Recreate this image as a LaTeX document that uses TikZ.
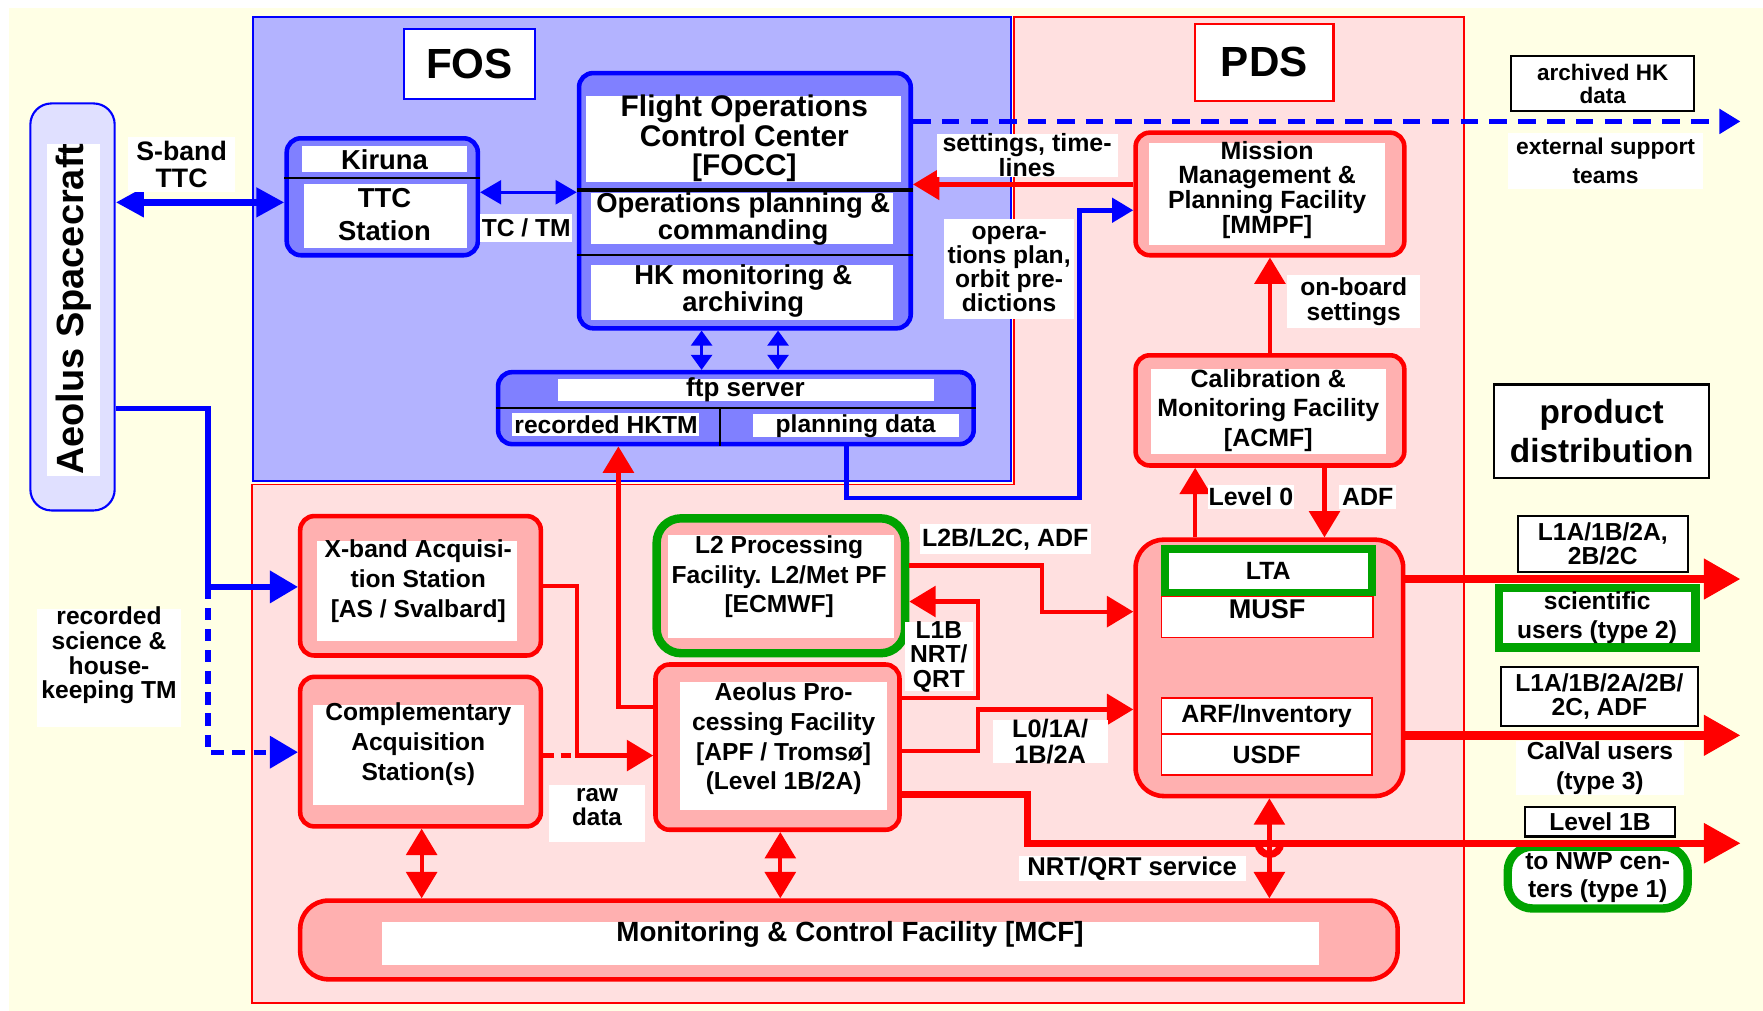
\documentclass[tikz,border=0pt]{standalone}
\usepackage{fontspec}
\setmainfont{Liberation Sans}
\usepackage{tikz}
\usetikzlibrary{arrows.meta,fit}

\definecolor{creambg}{HTML}{FFFFE5}
\definecolor{fospanel}{HTML}{B3B3FF}
\definecolor{fosmid}{HTML}{8080FF}
\definecolor{pdspanel}{HTML}{FFE0E0}
\definecolor{pdsmid}{HTML}{FFB0B0}
\definecolor{linkblue}{HTML}{0000FF}
\definecolor{linkred}{HTML}{FF0000}
\definecolor{ecmwfgreen}{HTML}{00A300}
\definecolor{craftfill}{HTML}{E0E0FF}

\newcommand{\diagfont}[2]{\bfseries\fontsize{#1}{#2}\selectfont}

\tikzset{
    fosunit/.style={draw=linkblue, line width=1.3pt, fill=fosmid, rounded corners=4pt, inner sep=0pt},
    pdsunit/.style={draw=linkred, line width=1.3pt, fill=pdsmid, rounded corners=4pt, inner sep=0pt},
    greenunit/.style={draw=ecmwfgreen, line width=2.4pt, fill=pdsmid, rounded corners=7pt, inner sep=0pt},
    textbox/.style={draw=black, line width=0.6pt, fill=white, inner sep=0pt},
    notebg/.style={fill=white, inner sep=0pt},
    subbox/.style={draw=linkred, line width=0.5pt, fill=white, inner sep=0pt},
    txt/.style={font=\diagfont{7}{8.5}, align=center, inner sep=0pt},
    blueflow/.style={draw=linkblue, line width=1.5pt},
    redflow/.style={draw=linkred, line width=1.2pt},
    bigflow/.style={draw=linkred, line width=2.4pt},
    sbandtip/.tip={Triangle[length=8pt,width=8pt]},
    bluetip/.tip={Triangle[length=6pt,width=6.8pt]},
    bluebigtip/.tip={Triangle[length=8pt,width=9pt]},
    ftptip/.tip={Triangle[length=4.3pt,width=6pt]},
    redtip/.tip={Triangle[length=7.5pt,width=8.7pt]},
    bigtip/.tip={Triangle[length=10.4pt,width=11pt]},
}

\begin{document}
\begin{tikzpicture}[x=0.011244cm, y=-0.011244cm]
    \useasboundingbox (0,0) rectangle (1568,899);
    % Background
    \fill[white] (0,0) rectangle (1568,899);
    \fill[creambg] (8,7) rectangle (1568,899);

    % PDS and FOS panels
    \draw[fill=pdspanel, draw=linkred, line width=0.5pt] (902,15) -- (1302,15) -- (1302,892) -- (224,892) -- (224,431) -- (902,431) -- cycle;
    \draw[fill=fospanel, draw=linkblue, line width=0.5pt] (225,15) rectangle (899,428);
    \node[textbox, draw=linkblue, fit={(359,26) (476,88)}] (fostitle) {};
    \node[txt, font=\diagfont{12}{14}] (fostxt) at (fostitle) {FOS};
    \node[textbox, draw=linkred, fit={(1063,21) (1186,90)}] (pdstitle) {};
    \node[txt, font=\diagfont{12}{14}] (pdstxt) at (pdstitle) {PDS};

    % Aeolus spacecraft
    \node[draw=linkblue, line width=0.6pt, fill=craftfill, rounded corners=6pt, inner sep=0pt, fit={(27,92) (102,454)}] (craft) {};
    \fill[white] (42,128) rectangle (89,423);
    \node[rotate=90, font=\diagfont{10.8}{12}, inner sep=0pt] (crafttxt) at (65.5,275) {Aeolus Spacecraft};

    % Kiruna TTC station
    \node[fosunit, fit={(255,123) (425,227)}] (kiruna) {};
    \fill[white] (269,130) rectangle (415,153);
    \fill[white] (270,164) rectangle (415,221);
    \draw[black, line width=0.6pt] (kiruna.west |- 0,158) -- (kiruna.east |- 0,158);
    \node[txt, font=\diagfont{7.8}{9.3}] (kirunatxt) at (342,142) {Kiruna};
    \node[txt, font=\diagfont{7.8}{9.3}] (ttctxt) at (342,191) {TTC\\Station};

    % FOCC
    \node[fosunit, fit={(515,65) (810,292)}] (focc) {};
    \fill[white] (521,85) rectangle (801,162);
    \fill[white] (526,172) rectangle (794,217);
    \fill[white] (526,236) rectangle (794,285);
    \draw[black, line width=1pt] (focc.west |- 0,169) -- (focc.east |- 0,169);
    \draw[black, line width=0.6pt] (focc.west |- 0,227) -- (focc.east |- 0,227);
    \node[txt, font=\diagfont{8.5}{8.3}] (focctxt) at (662,123) {Flight Operations\\Control Center\\{[FOCC]}};
    \node[txt, font=\diagfont{7.8}{7.7}] (opstxt) at (661,195) {Operations planning \&\\commanding};
    \node[txt, font=\diagfont{7.8}{7.7}] (hktxt) at (661,259) {HK monitoring \&\\archiving};

    % ftp server
    \node[fosunit, fit={(443,331) (866,395)}] (ftp) {};
    \fill[white] (496,337) rectangle (831,357);
    \fill[white] (455,367) rectangle (622,388);
    \fill[white] (670,368) rectangle (853,389);
    \draw[black, line width=0.6pt] (ftp.west |- 0,363) -- (ftp.east |- 0,363);
    \draw[black, line width=0.6pt] (640,363) -- (ftp.south -| 640,0);
    \node[txt, font=\diagfont{7.4}{8}] (ftptxt) at (663,347) {ftp server};
    \node[txt, font=\diagfont{7}{8}] (hktmtxt) at (539,378) {recorded HKTM};
    \node[txt, font=\diagfont{7}{8}] (plantxt) at (761,379) {planning data};

    % MMPF and ACMF
    \node[pdsunit, fit={(1010,118) (1249,227)}] (mmpf) {};
    \fill[white] (1022,127) rectangle (1232,218);
    \node[txt, font=\diagfont{7.1}{7.1}] (mmpftxt) at (1127,169) {Mission\\Management \&\\Planning Facility\\{[MMPF]}};
    \node[pdsunit, fit={(1010,316) (1249,414)}] (acmf) {};
    \fill[white] (1024,328) rectangle (1233,404);
    \node[txt, font=\diagfont{7.1}{8.4}] (acmftxt) at (1128,365) {Calibration \&\\Monitoring Facility\\{[ACMF]}};

    % Acquisition stations
    \node[pdsunit, fit={(267,459) (481,583)}] (xband) {};
    \fill[white] (282,481) rectangle (460,570);
    \node[txt] (xbandtxt) at (372,517) {X-band Acquisi-\\tion Station\\{[AS / Svalbard]}};
    \node[pdsunit, fit={(267,602) (481,735)}] (compl) {};
    \fill[white] (278,627) rectangle (466,716);
    \node[txt] (compltxt) at (372,662) {Complementary\\Acquisition\\Station(s)};

    % Processing facilities
    \node[greenunit, fit={(584,461) (805,581)}] (l2pf) {};
    \fill[white] (594,476) rectangle (795,567);
    \node[txt, font=\diagfont{7}{8.3}] (l2pftxt) at (693,513) {L2 Processing\\Facility. L2/Met PF\\{[ECMWF]}};
    \node[pdsunit, fit={(583,591) (800,738)}] (apf) {};
    \fill[white] (605,607) rectangle (789,720);
    \node[txt] (apftxt) at (697,657) {Aeolus Pro-\\cessing Facility\\{[APF / Tromsø]}\\(Level 1B/2A)};

    % MCF
    \node[pdsunit, rounded corners=8pt, fit={(267,801) (1243,871)}] (mcf) {};
    \fill[white] (340,820) rectangle (1173,858);
    \node[txt, font=\diagfont{7.9}{9}] (mcftxt) at (756,831) {Monitoring \& Control Facility [MCF]};

    % LTA / MUSF / USDF
    \node[pdsunit, rounded corners=8pt, fit={(1010,480) (1248,708)}] (ltabox) {};
    \node[subbox, fit={(1033,530) (1221,567)}] (musf) {};
    \node[txt, font=\diagfont{7.7}{8}] (musftxt) at (1127,542) {MUSF};
    \node[draw=ecmwfgreen, line width=2.2pt, fill=white, inner sep=0pt, fit={(1036,488) (1220,527)}] (lta) {};
    \node[txt, font=\diagfont{7.1}{8}] (ltatxt) at (lta) {LTA};
    \node[subbox, fit={(1033,621) (1220,653)}] (arf) {};
    \node[txt, font=\diagfont{7.1}{8}] (arftxt) at (arf) {ARF/Inventory};
    \node[subbox, fit={(1033,653) (1220,689)}] (usdf) {};
    \node[txt, font=\diagfont{7.1}{8}] (usdftxt) at (usdf) {USDF};

    % Right side boxes
    \node[textbox, fit={(1344,50) (1507,99)}] (archhk) {};
    \node[txt, font=\diagfont{6.4}{6.6}] (archhktxt) at (archhk) {archived HK\\data};
    \node[notebg, fit={(1341,118) (1515,168)}] (extteams) {};
    \node[txt, font=\diagfont{6.5}{8}] (extteamstxt) at (extteams) {external support\\teams};
    \node[textbox, fit={(1329,342) (1520,425)}] (proddist) {};
    \node[txt, font=\diagfont{9.5}{11.2}] (proddisttxt) at (proddist) {product\\distribution};
    \node[textbox, fit={(1350,459) (1501,509)}] (sciprod) {};
    \node[txt, font=\diagfont{7}{6.8}] (sciprodtxt) at (sciprod) {L1A/1B/2A,\\2B/2C};
    \node[draw=ecmwfgreen, line width=2.4pt, fill=white, inner sep=0pt, fit={(1333,523) (1508,576)}] (sciusers) {};
    \node[txt, font=\diagfont{7}{8.3}] (sciuserstxt) at (sciusers) {scientific\\users (type 2)};
    \node[textbox, fit={(1335,593) (1510,646)}] (calprod) {};
    \node[txt, font=\diagfont{7}{7}] (calprodtxt) at (calprod) {L1A/1B/2A/2B/\\2C, ADF};
    \node[notebg, fit={(1348,659) (1498,707)}] (calusers) {};
    \node[txt, font=\diagfont{7}{8.6}] (caluserstxt) at (calusers) {CalVal users\\(type 3)};
    \node[textbox, fit={(1356,718) (1490,744)}] (nwpprod) {};
    \node[txt, font=\diagfont{7}{8}] (nwpprodtxt) at (nwpprod) {Level 1B};
    \node[draw=ecmwfgreen, line width=2.4pt, fill=white, rounded corners=7pt, inner sep=0pt, fit={(1341,753) (1501,808)}] (nwpusers) {};
    \node[txt, font=\diagfont{7}{7.8}] (nwpuserstxt) at (nwpusers) {to NWP cen-\\ters (type 1)};

    % Free ends and bends
    \coordinate (hkout) at (1548,108);
    \coordinate (tmsplit) at (185,522);
    \coordinate (rawmerge) at (513,672);
    \coordinate (sciout) at (1548,515);
    \coordinate (calout) at (1548,654);
    \coordinate (nwpout) at (1548,750);

    % Blue links
    \draw[blueflow, line width=2.2pt, sbandtip-sbandtip] (craft.east |- 0,180) -- (kiruna.west |- 0,180);
    \draw[draw=linkblue, line width=0.8pt, bluetip-bluetip] (kiruna.east |- 0,171) -- (focc.west |- 0,171);
    \foreach \x in {624,692}
        \draw[draw=linkblue, line width=0.8pt, ftptip-ftptip] (focc.south -| \x,0) -- (ftp.north -| \x,0);
    \draw[blueflow, dash pattern=on 5pt off 3.2pt, -bluetip] (focc.east |- hkout) -- (hkout);
    \draw[blueflow, line width=1.3pt, -bluetip] (ftp.south -| 753,0) |- (960,443) |- (mmpf.west |- 0,187);
    \draw[blueflow, -bluebigtip] (craft.east |- 0,363) -| (tmsplit) -- (xband.west |- tmsplit);
    \draw[blueflow, dash pattern=on 3.5pt off 2.5pt, -bluebigtip] (tmsplit) |- (compl.west |- 0,669);

    % Red links
    \draw[redflow, -redtip] (mmpf.west |- 0,164) -- (focc.east |- 0,164);
    \draw[redflow, -redtip] (acmf.north) -- (mmpf.south);
    \draw[redflow, -redtip] (ltabox.north -| 1063,0) -- (acmf.south -| 1063,0);
    \draw[redflow, -redtip] (acmf.south -| 1178,0) -- (ltabox.north -| 1178,0);
    \draw[redflow, -redtip] (apf.west |- 0,629) -| (ftp.south -| 550,0);
    \draw[redflow, -redtip] (xband.east) -| (rawmerge) -- (apf.west |- rawmerge);
    \draw[redflow, dash pattern=on 3pt off 2pt] (compl.east |- rawmerge) -- (rawmerge);
    \draw[redflow, -redtip] (l2pf.east |- 0,503) -| (927,544) -- (ltabox.west |- 0,544);
    \draw[redflow, -redtip] (apf.east |- 0,621) -| (870,535) -- (l2pf.east |- 0,535);
    \draw[redflow, -redtip] (apf.east |- 0,668) -| (870,631) -- (ltabox.west |- 0,631);
    \draw[redflow, redtip-redtip] (compl.south -| 375,0) -- (mcf.north -| 375,0);
    \draw[redflow, redtip-redtip] (apf.south -| 694,0) -- (mcf.north -| 694,0);
    \draw[redflow, redtip-redtip] (ltabox.south -| 1129,0) -- (mcf.north -| 1129,0);
    \draw[bigflow, line width=2pt, -bigtip] (apf.east |- 0,707) -| (914,750) -- (nwpout);
    \draw[redflow, line width=2pt] (1119,750) arc (180:0:10);
    \draw[bigflow, -bigtip] (ltabox.east |- sciout) -- (sciout);
    \draw[bigflow, -bigtip] (ltabox.east |- calout) -- (calout);

    % Link labels
    \node[notebg, fit={(114,122) (209,171)}] (sbandlbl) {};
    \node[txt, font=\diagfont{7.6}{7.7}] (sbandtxt) at (sbandlbl) {S-band\\TTC};
    \node[notebg, fit={(427,190) (509,215)}] (tctmlbl) {};
    \node[txt, font=\diagfont{7}{8}] (tctmtxt) at (tctmlbl) {TC / TM};
    \node[notebg, fit={(833,119) (994,157)}] (settlbl) {};
    \node[txt, font=\diagfont{7.1}{7}] (setttxt) at (settlbl) {settings, time-\\lines};
    \node[notebg, fit={(840,195) (955,284)}] (oplanlbl) {};
    \node[txt, font=\diagfont{7}{6.8}] (oplantxt) at (oplanlbl) {opera-\\tions plan,\\orbit pre-\\dictions};
    \node[notebg, fit={(1145,245) (1263,292)}] (onbrdlbl) {};
    \node[txt, font=\diagfont{7}{7}] (onbrdtxt) at (onbrdlbl) {on-board\\settings};
    \node[notebg, fit={(1074,431) (1151,453)}] (lvl0lbl) {};
    \node[txt, font=\diagfont{7.1}{8}] (lvl0txt) at (lvl0lbl) {Level 0};
    \node[notebg, fit={(1191,431) (1242,453)}] (adflbl) {};
    \node[txt, font=\diagfont{7.1}{8}] (adftxt) at (adflbl) {ADF};
    \node[notebg, fit={(818,466) (970,493)}] (l2blbl) {};
    \node[txt, font=\diagfont{7.1}{8}] (l2btxt) at (l2blbl) {L2B/L2C, ADF};
    \node[notebg, fit={(805,553) (865,615)}] (l1blbl) {};
    \node[txt, font=\diagfont{7}{7}] (l1btxt) at (l1blbl) {L1B\\NRT/\\QRT};
    \node[notebg, fit={(883,640) (985,679)}] (l0lbl) {};
    \node[txt, font=\diagfont{7.2}{7.4}] (l0txt) at (l0lbl) {L0/1A/\\1B/2A};
    \node[notebg, fit={(906,761) (1108,784)}] (nrtlbl) {};
    \node[txt, font=\diagfont{7.3}{8}] (nrttxt) at (nrtlbl) {NRT/QRT service};
    \fill[white] (488,698) rectangle (574,749);
    \node[txt, font=\diagfont{6.9}{6.8}] (rawlbl) at (531,718) {raw\\data};
    \fill[white] (33,542) rectangle (161,647);
    \node[txt, font=\diagfont{7}{7}] (rectmlbl) at (97,583) {recorded\\science \&\\house-\\keeping TM};
\end{tikzpicture}
\end{document}
